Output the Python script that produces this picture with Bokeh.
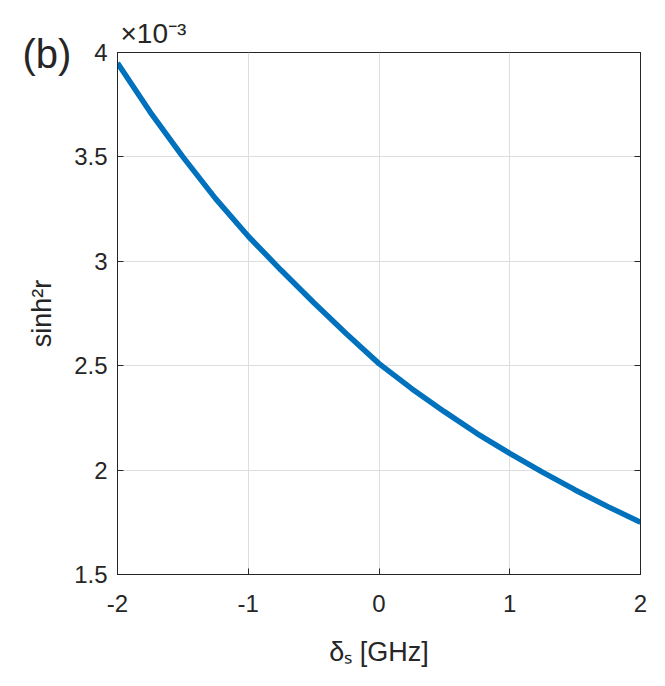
from bokeh.plotting import figure
from bokeh.models import Range1d, FixedTicker, LinearAxis, Title
from bokeh.embed import file_html
from bokeh.resources import INLINE

# detuning delta_s [GHz]
delta_s = [-2.0, -1.75, -1.5, -1.25, -1.0, -0.75, -0.5, -0.25, 0.0,
           0.25, 0.5, 0.75, 1.0, 1.25, 1.5, 1.75, 2.0]
# sinh^2 r in units of 1e-3
sinh2r = [3.95, 3.715, 3.50, 3.30, 3.12, 2.958, 2.803, 2.653, 2.51,
          2.39, 2.28, 2.175, 2.08, 1.99, 1.905, 1.825, 1.75]

x_ticks = [-2, -1, 0, 1, 2]
x_tick_labels = ["-2", "-1", "0", "1", "2"]
y_ticks = [1.5, 2, 2.5, 3, 3.5, 4]
y_tick_labels = ["1.5", "2", "2.5", "3", "3.5", "4"]

FONT = "Liberation Sans"
AX = "#262626"

p = figure(width=649, height=670, output_backend="svg", toolbar_location=None,
           x_range=Range1d(-2, 2), y_range=Range1d(1.5, 4),
           min_border_left=117, min_border_right=9, min_border_top=52,
           min_border_bottom=96)
p.background_fill_color = "white"
p.border_fill_color = "white"
p.outline_line_color = AX
p.outline_line_width = 1

for ax, ticks, labels in ((p.xaxis[0], x_ticks, x_tick_labels), (p.yaxis[0], y_ticks, y_tick_labels)):
    ax.ticker = FixedTicker(ticks=ticks)
    ax.major_label_overrides = {t: l for t, l in zip(ticks, labels)}
    ax.major_tick_in = 6
    ax.major_tick_out = 0
    ax.minor_tick_in = 0
    ax.minor_tick_out = 0
    ax.axis_line_color = AX
    ax.major_tick_line_color = AX
    ax.major_label_text_font = FONT
    ax.major_label_text_font_size = "24px"
    ax.major_label_text_color = AX
    ax.axis_label_text_font = FONT
    ax.axis_label_text_font_size = "27px"
    ax.axis_label_text_font_style = "normal"
    ax.axis_label_text_color = AX

p.xaxis[0].major_label_standoff = 20
p.yaxis[0].major_label_standoff = 10
p.xaxis[0].axis_label = "\u03b4\u209b [GHz]"
p.xaxis[0].axis_label_standoff = 22
p.yaxis[0].axis_label = "sinh\u00b2r"
p.yaxis[0].axis_label_standoff = 14

# box ticks on the right side
ra = LinearAxis(ticker=FixedTicker(ticks=y_ticks),
                major_label_overrides={t: "" for t in y_ticks},
                major_tick_in=6, major_tick_out=0, minor_tick_in=0, minor_tick_out=0,
                axis_line_color=AX, major_tick_line_color=AX, major_label_standoff=0)
p.add_layout(ra, "right")

p.xgrid.ticker = FixedTicker(ticks=x_ticks)
p.ygrid.ticker = FixedTicker(ticks=y_ticks)
p.grid.grid_line_color = "#dedede"
p.grid.grid_line_width = 1

p.line(delta_s, sinh2r, line_color="#0072BD", line_width=5.5)

# panel label "(b)" (nearest to frame, zero height, drawn overlapping frame top)
try:
    tb = Title(text="(b)", align="left", offset=-95, standoff=-47, text_font=FONT,
               text_font_size="40px", text_font_style="normal", text_color=AX)
except Exception:
    tb = Title(text="(b)", align="left", offset=-95, standoff=0, text_font=FONT,
               text_font_size="40px", text_font_style="normal", text_color=AX)
p.add_layout(tb, "above")

# exponent label
p.add_layout(Title(text="\u00d710\u207b\u00b3", align="left", offset=3, standoff=7,
                   text_font=FONT, text_font_size="28px", text_font_style="normal",
                   text_color=AX), "above")

open("out.html", "w").write(file_html(p, INLINE))
